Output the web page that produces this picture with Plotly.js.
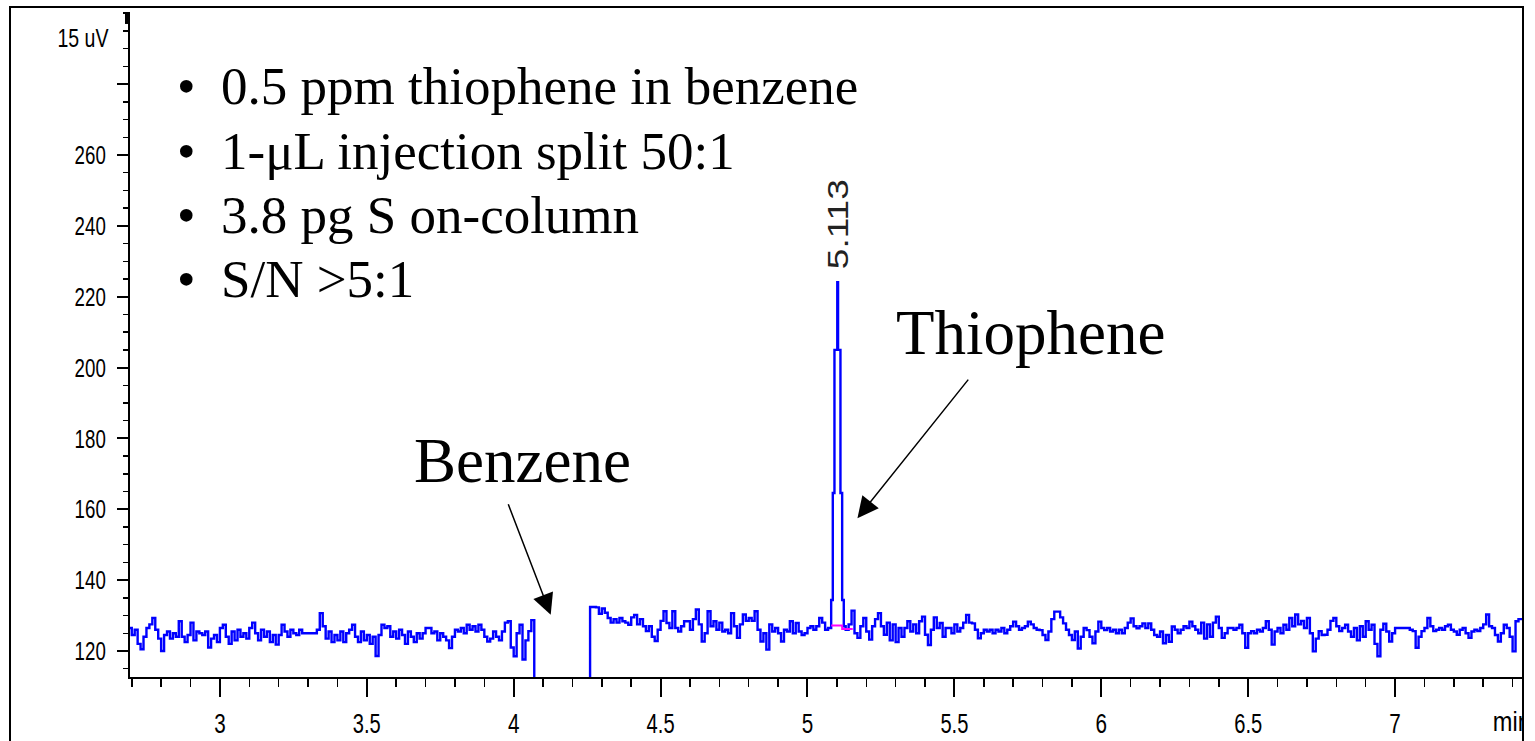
<!DOCTYPE html>
<html><head><meta charset="utf-8">
<script src="https://cdn.plot.ly/plotly-3.0.1.min.js"></script>
<style>
html,body{margin:0;padding:0;background:#fff;width:1535px;height:741px;overflow:hidden;}
#frame{position:absolute;left:9px;top:6px;width:1511px;height:760px;border:2px solid #000;border-bottom:none;overflow:hidden;background:#fff;}
#chart{position:absolute;left:0;top:0;width:1511px;height:733px;}
</style></head><body>
<div id="frame"><div id="chart"></div></div>
<script>
// ---- data ----
const startA = 2.69;          // min
const stepMin = 0.01;         // sampling step (min)
const signalA = [
126.5,124.5,126.0,122.0,120.5,124.0,126.5,127.5,129.3,126.0,
123.5,120.0,124.5,125.5,123.5,125.0,124.0,128.4,124.0,122.5,
124.5,128.0,123.0,125.5,125.0,124.5,125.5,121.0,123.5,124.5,
122.5,126.5,127.4,124.0,122.0,125.5,123.0,126.0,124.0,125.0,
123.5,126.5,128.0,125.0,123.0,126.0,124.0,125.5,122.5,124.5,
121.8,124.5,127.4,125.5,124.0,126.0,125.0,124.5,126.0,125.0,
125.0,125.0,125.0,125.0,126.0,130.7,127.0,123.5,125.5,122.5,
124.5,123.0,125.5,122.5,125.0,126.0,127.4,124.0,122.5,125.5,
123.0,124.5,122.0,124.0,118.6,124.5,127.4,126.5,127.0,124.0,
125.5,123.5,126.0,124.5,122.0,125.5,124.0,122.5,125.0,123.5,
125.0,126.5,126.5,125.0,125.5,123.0,125.0,124.0,123.0,120.8,
124.0,126.0,125.5,126.5,125.0,127.4,126.0,127.0,125.5,127.4,
126.0,124.0,122.7,123.5,125.5,124.0,123.0,125.5,128.0,128.4,
121.0,118.5,125.0,127.4,117.6,123.0,125.6,128.7,100,100,
100,100,100,100,100,100,100,100,100,100,
100,100,100,100,100,100,100,132.4,132.4,132.3,
130.5,132.0,130.8,129.3,128.0,129.0,128.0,129.3,128.4,128.0,
127.4,129.5,130.2,127.5,129.0,127.0,125.6,127.0,124.0,122.8,
126.0,128.5,131.2,127.9,126.5,131.2,126.5,125.5,127.0,128.4,
128.4,126.0,129.0,131.7,127.5,122.7,125.0,131.2,127.0,128.4,
126.0,128.0,125.5,126.0,125.0,130.7,127.0,123.7,127.5,130.3,
128.5,129.3,128.5,131.2,126.0,122.7,125.0,120.4,127.5,125.5,
126.5,125.0,122.7,126.0,125.5,128.4,125.0,127.9,125.5,124.5,
125.0,126.5,127.0,126.0,127.0,129.3,128.0,126.0,126.5
];
const peakTime   = [5.0806, 5.0861, 5.0918, 5.1014, 5.1041, 5.1122, 5.1180, 5.1235];
const peakSignal = [134.4, 164.6, 205.0, 224.1, 205.0, 164.6, 134.4, 127.0];
const startB = 5.13;
const signalB = [
126.0,127.5,131.4,125.0,123.7,127.0,129.3,125.5,123.2,127.0,
129.0,130.7,127.0,124.6,128.0,123.0,127.5,122.5,126.5,124.0,
126.5,128.4,125.5,127.5,125.0,128.4,129.7,124.6,121.7,126.0,
129.5,126.5,127.9,124.0,126.5,126.5,125.0,127.5,125.5,126.5,
128.0,130.2,128.0,127.8,126.0,123.6,125.0,126.0,125.5,126.0,
125.0,126.0,125.5,126.5,125.0,126.0,127.0,128.3,127.0,126.0,
126.5,127.0,128.3,127.5,126.5,126.0,125.9,124.5,123.1,125.5,
129.0,131.1,131.1,129.5,127.8,126.0,124.5,123.1,125.5,120.7,
124.0,126.5,125.9,124.0,122.2,125.5,128.3,126.5,125.9,126.5,
125.5,126.0,125.0,126.0,125.0,126.5,128.0,129.2,127.0,126.4,
127.0,127.8,126.5,127.8,126.0,124.5,124.0,125.5,122.2,124.5,
122.6,126.9,126.0,125.0,126.0,127.0,126.5,128.3,127.0,126.0,
125.0,128.0,123.5,127.5,124.0,128.0,129.7,126.5,123.7,125.0,
126.5,126.5,126.0,126.5,127.4,125.0,120.9,125.0,125.6,125.0,
126.0,125.5,126.5,128.4,126.0,121.8,125.5,126.5,125.0,127.4,
126.0,129.3,127.0,130.3,127.5,128.5,126.5,129.3,125.0,119.9,
123.5,125.6,124.5,124.6,126.0,128.5,129.3,127.0,125.6,126.5,
127.4,125.5,124.0,126.5,123.0,127.0,124.0,128.4,126.0,127.4,
122.0,118.5,126.0,127.7,125.5,122.7,125.0,126.5,126.5,126.5,
126.5,126.5,126.0,125.6,120.9,124.0,125.6,126.5,129.3,127.0,
125.6,126.0,126.5,126.0,127.0,127.4,126.0,125.5,124.6,126.0,
126.5,125.0,123.7,125.5,126.0,125.6,126.5,127.5,130.3,127.0,
126.5,124.5,122.7,125.0,127.4,126.5,124.0,119.9,128.4,129.0,
129.3
];
const integrationTime   = [5.0806, 5.1180, 5.1540];
const integrationSignal = [127.2, 126.2, 126.2];

const xTickValues = [3, 3.5, 4, 4.5, 5, 5.5, 6, 6.5, 7];
const xTickLabels = ['3', '3.5', '4', '4.5', '5', '5.5', '6', '6.5', '7'];
const yTickValues = [120, 140, 160, 180, 200, 220, 240, 260, 280];
const yTickLabels = ['120', '140', '160', '180', '200', '220', '240', '260', ''];
const bulletLines = ['0.5 ppm thiophene in benzene', '1-μL injection split 50:1', '3.8 pg S on-column', 'S/N >5:1'];
const peakLabel = '5.113';
const peakLabelTime = 5.105, peakLabelValue = 240.5;
const benzeneArrowTip = [4.126, 130.2];
const thiopheneArrowTip = [5.170, 157.5];

// ---- build trace ----
const timeA = signalA.map((_, i) => +(startA + i * stepMin).toFixed(4));
const timeB = signalB.map((_, i) => +(startB + i * stepMin).toFixed(4));
const allTime = timeA.concat(peakTime, timeB);
const allSignal = signalA.concat(peakSignal, signalB);

const SANS = '"Liberation Sans", Arial, sans-serif';
const SERIF = '"Liberation Serif", "Times New Roman", serif';

// plot-area geometry helpers (page pixels -> paper)
const PL = 130, PW = 1393, PT = 12, PH = 665;
const px = p => (p - PL) / PW;
const py = p => 1 - (p - PT) / PH;

const traces = [
  {x: allTime, y: allSignal, type: 'scatter', mode: 'lines',
   line: {color: '#0000ff', width: 2.4, shape: 'hv'}, hoverinfo: 'skip'},
  {x: integrationTime, y: integrationSignal, type: 'scatter', mode: 'lines',
   line: {color: '#ff00ff', width: 2, shape: 'hv'}, hoverinfo: 'skip'}
];

const annotations = [];
const bulletY = [86, 151, 215, 279];
bulletLines.forEach((t, i) => {
  annotations.push({xref: 'paper', yref: 'paper', x: px(175), y: py(bulletY[i]), xanchor: 'left', yanchor: 'middle',
    text: '•', showarrow: false, font: {family: SERIF, size: 53, color: '#000'}});
  annotations.push({xref: 'paper', yref: 'paper', x: px(219), y: py(bulletY[i]), xanchor: 'left', yanchor: 'middle',
    text: t, showarrow: false, font: {family: SERIF, size: 53, color: '#000'}});
});
annotations.push({xref: 'paper', yref: 'paper', x: px(523), y: py(461), xanchor: 'center', yanchor: 'middle',
  text: 'Benzene', showarrow: false, font: {family: SERIF, size: 63, color: '#000'}});
annotations.push({xref: 'paper', yref: 'paper', x: px(1031), y: py(333), xanchor: 'center', yanchor: 'middle',
  text: 'Thiophene', showarrow: false, font: {family: SERIF, size: 63, color: '#000'}});
annotations.push({x: benzeneArrowTip[0], y: benzeneArrowTip[1], xref: 'x', yref: 'y', text: '', showarrow: true,
  ax: -43, ay: -112, arrowhead: 2, arrowsize: 2.8, arrowwidth: 1.5, arrowcolor: '#000', standoff: 0});
annotations.push({x: thiopheneArrowTip[0], y: thiopheneArrowTip[1], xref: 'x', yref: 'y', text: '', showarrow: true,
  ax: 112, ay: -140, arrowhead: 2, arrowsize: 2.8, arrowwidth: 1.5, arrowcolor: '#000', standoff: 0});
annotations.push({x: peakLabelTime, y: peakLabelValue, xref: 'x', yref: 'y', text: peakLabel, textangle: -90,
  showarrow: false, font: {family: SANS, size: 29, color: '#222'}});
annotations.push({xref: 'paper', yref: 'paper', x: 0, y: py(38), xanchor: 'center', yanchor: 'middle', xshift: -47,
  text: '15 uV', showarrow: false, font: {family: SANS, size: 26, color: '#000'}});
annotations.push({xref: 'paper', yref: 'paper', x: 1, y: py(722), xanchor: 'center', yanchor: 'middle', xshift: -10,
  text: 'min', showarrow: false, font: {family: SANS, size: 27, color: '#000'}});

const layout = {
  width: 1511, height: 733,
  margin: {l: 119, r: 0, t: 4, b: 64, pad: 0},
  paper_bgcolor: '#fff', plot_bgcolor: '#fff',
  showlegend: false, hovermode: false,
  xaxis: {range: [2.694, 7.432], showline: true, linecolor: '#000', linewidth: 2, mirror: false,
    showgrid: false, zeroline: false, ticks: 'outside', ticklen: 18, tickwidth: 2, tickcolor: '#000',
    tickmode: 'array', tickvals: xTickValues, ticktext: xTickLabels, ticklabelstandoff: 2,
    tickfont: {family: SANS, size: 28, color: '#000'},
    minor: {ticks: 'outside', ticklen: 8, tickwidth: 1.5, tickcolor: '#000', dtick: 0.1, tick0: 0, showgrid: false}},
  yaxis: {range: [112.66, 300.35], showline: true, linecolor: '#000', linewidth: 2,
    showgrid: false, zeroline: false, ticks: 'outside', ticklen: 11, tickwidth: 2, tickcolor: '#000',
    tickmode: 'array', tickvals: yTickValues, ticktext: yTickLabels, ticklabelstandoff: 6,
    tickfont: {family: SANS, size: 26, color: '#000'},
    minor: {ticks: 'outside', ticklen: 5, tickwidth: 1.5, tickcolor: '#000', dtick: 5, tick0: 0, showgrid: false}},
  shapes: [
    {type: 'rect', xref: 'paper', yref: 'paper', xsizemode: 'pixel', xanchor: 0, x0: -5, x1: 0,
     y0: 0.982, y1: 1, fillcolor: '#000', line: {width: 0}}
  ],
  annotations: annotations
};

// condensed look of the instrument's labels (same text, glyphs narrowed)
function condense(el, width) {
  el.setAttribute('textLength', width);
  el.setAttribute('lengthAdjust', 'spacingAndGlyphs');
}
const labelWidth = (s, digit, dot) => s.split('').reduce((w, c) => w + (c === '.' ? dot : digit), 0);

Plotly.newPlot('chart', traces, layout, {staticPlot: true, displayModeBar: false}).then(gd => {
  gd.querySelectorAll('.xtick text').forEach(t => { if (t.textContent) condense(t, labelWidth(t.textContent, 11.5, 5)); });
  gd.querySelectorAll('.ytick text').forEach(t => { if (t.textContent) condense(t, labelWidth(t.textContent, 10.4, 5)); });
  gd.querySelectorAll('text.annotation-text').forEach(t => {
    const s = t.textContent;
    if (s === '15 uV') condense(t, 51);
    else if (s === 'min') condense(t, 38);
    else if (s === peakLabel) condense(t, 90);
  });
});
</script>
</body></html>
